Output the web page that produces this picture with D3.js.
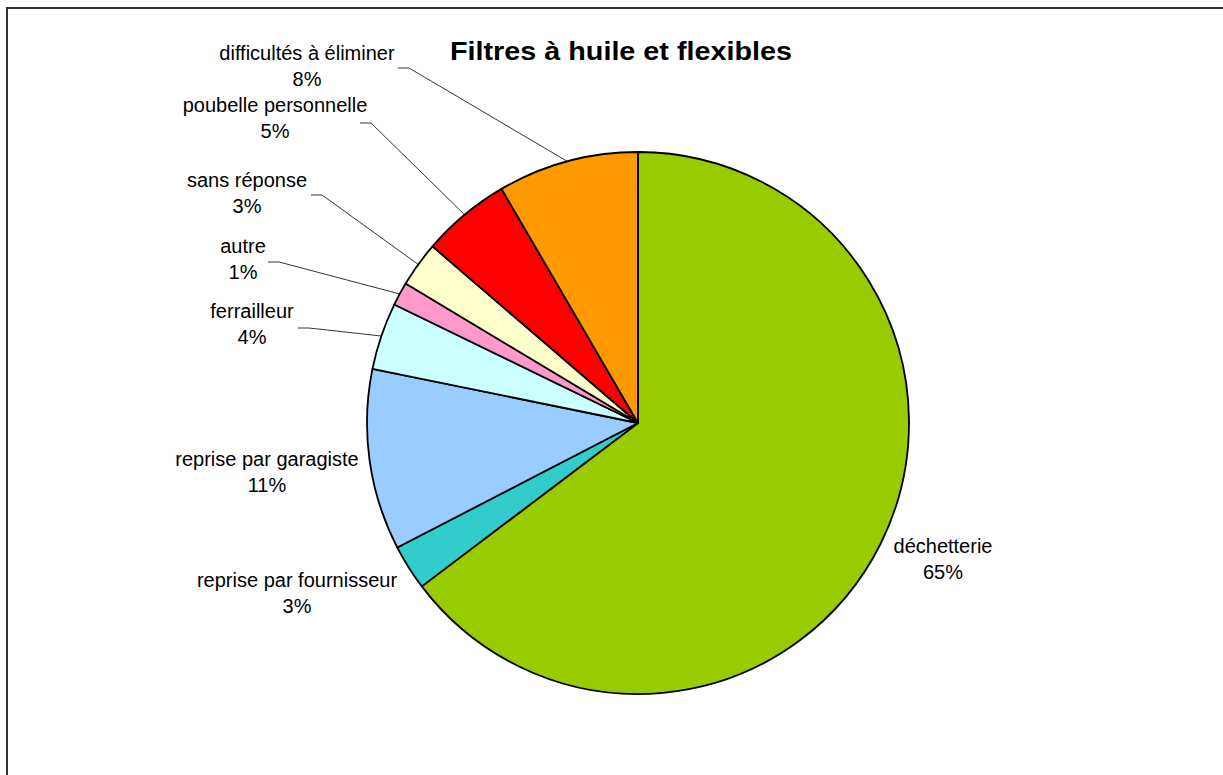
<!DOCTYPE html>
<html><head><meta charset="utf-8">
<script src="https://cdn.jsdelivr.net/npm/d3@7"></script>
<style>
html,body{margin:0;padding:0;background:#fff;}
svg{display:block;font-family:"Liberation Sans",Arial,sans-serif;}
</style></head>
<body>
<svg id="chart" width="1223" height="775"></svg>
<script>
const categories = ["déchetterie","reprise par fournisseur","reprise par garagiste","ferrailleur","autre","sans réponse","poubelle personnelle","difficultés à éliminer"];
const values = [64.7, 2.7, 10.8, 4.0, 1.4, 2.7, 5.3, 8.4];
const colors = ["#99CC00","#33CCCC","#99CCFF","#CCFFFF","#FF99CC","#FFFFCC","#FF0000","#FF9900"];
const title = "Filtres à huile et flexibles";

// label layout: [center x, first line baseline y, leader start x (or null), leader y]
const labelPos = [
  [943, 553, null, null],
  [297, 587, null, null],
  [267, 466, null, null],
  [252, 318, 298, 328],
  [243, 253, 268, 262],
  [247, 187, 311, 195],
  [275, 112, 360, 123],
  [307, 60, 398, 68]
];

const svg = d3.select("#chart");
const cx = 638, cy = 423, r = 271;

// frame
svg.append("path").attr("d","M7,775 L7,8 L1223,8").attr("fill","none").attr("stroke","#333").attr("stroke-width",2);

svg.append("text").attr("x",621).attr("y",60).attr("text-anchor","middle")
  .attr("font-size",26).attr("font-weight","bold").attr("fill","#000")
  .attr("textLength",342).attr("lengthAdjust","spacingAndGlyphs").text(title);

const data = categories.map((c,i)=>({cat:c, value:values[i], color:colors[i], pos:labelPos[i]}));
const pie = d3.pie().value(d=>d.value).sort(null).startAngle(0).endAngle(2*Math.PI);
const arcs = pie(data);
const arc = d3.arc().innerRadius(0).outerRadius(r);

const g = svg.append("g").attr("transform",`translate(${cx},${cy})`);
g.selectAll("path.slice").data(arcs).enter().append("path")
  .attr("class","slice").attr("d",arc)
  .attr("fill",d=>d.data.color).attr("stroke","#000").attr("stroke-width",1.8).attr("stroke-linejoin","round");

// leader lines
arcs.forEach(a=>{
  const p = a.data.pos;
  if(p[2]===null) return;
  const mid = (a.startAngle+a.endAngle)/2;
  const ex = cx + r*Math.sin(mid), ey = cy - r*Math.cos(mid);
  svg.append("polyline")
    .attr("points",`${p[2]},${p[3]} ${p[2]+11},${p[3]} ${ex},${ey}`)
    .attr("fill","none").attr("stroke","#000").attr("stroke-width",0.8);
});

// labels
arcs.forEach(a=>{
  const p = a.data.pos;
  const t = svg.append("text").attr("text-anchor","middle").attr("font-size",20).attr("fill","#000");
  t.append("tspan").attr("x",p[0]).attr("y",p[1]).text(a.data.cat);
  t.append("tspan").attr("x",p[0]).attr("y",p[1]+26).text(Math.round(a.data.value)+"%");
});
</script>
</body></html>
